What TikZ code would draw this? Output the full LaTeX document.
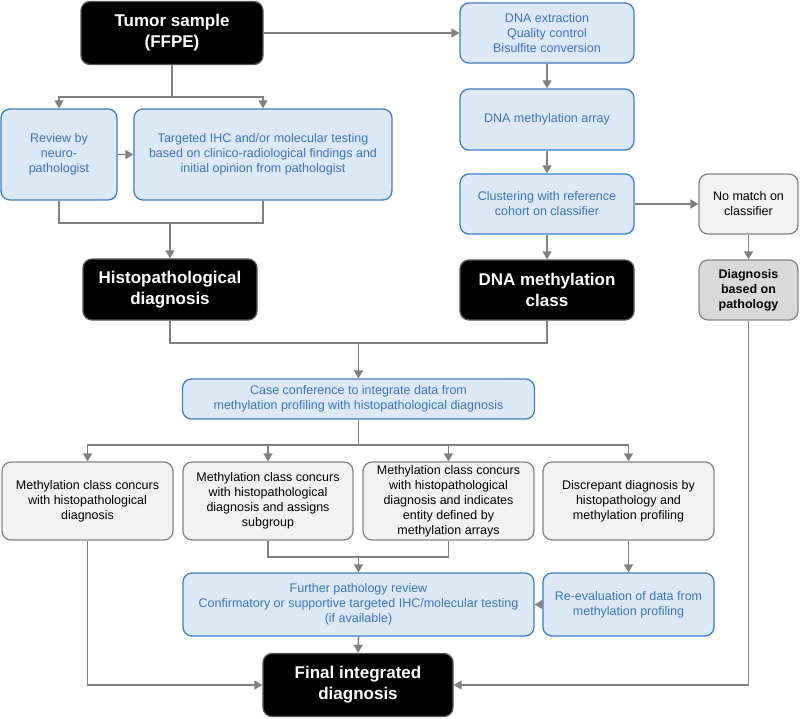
\documentclass[tikz,border=0pt]{standalone}
\usepackage{fontspec}
\setmainfont{Liberation Sans}
\usetikzlibrary{arrows.meta}
\definecolor{conn}{HTML}{808080}
\definecolor{bfill}{HTML}{DDE9F6}
\definecolor{bdraw}{HTML}{3F7DC1}
\definecolor{btext}{HTML}{3A74B6}
\definecolor{gfill}{HTML}{F2F2F2}
\definecolor{gdraw}{HTML}{858585}
\definecolor{dfill}{HTML}{D9D9D9}
\tikzset{
  base/.style={rounded corners=9pt, align=center, inner sep=2pt, line width=1.3pt},
  bluebox/.style={base, fill=bfill, draw=bdraw, text=btext, font=\fontsize{12.5}{15}\selectfont},
  graybox/.style={base, fill=gfill, draw=gdraw, text=black, font=\fontsize{12.5}{15}\selectfont},
  darkgray/.style={base, fill=dfill, draw=gdraw, text=black, font=\fontsize{12.5}{15}\selectfont\bfseries},
  blackbox/.style={base, fill=black, draw=gray!70!black, text=white, font=\fontsize{17}{21}\selectfont\bfseries},
  conline/.style={draw=conn, line width=1.6pt},
  arr/.style={conline, -{Triangle[length=8pt,width=9pt]}},
}
\begin{document}
\begin{tikzpicture}[x=1pt,y=-1pt]
\useasboundingbox (0,0) rectangle (800,718);
% top left
\node[blackbox, minimum width=182pt, minimum height=63pt] (tumor) at (172,33) {Tumor sample\\(FFPE)};
\node[bluebox, minimum width=116pt, minimum height=91pt] (review) at (59,154.5) {Review by\\neuro-\\pathologist};
\node[bluebox, minimum width=258pt, minimum height=91pt] (targeted) at (263,154.5) {Targeted IHC and/or molecular testing\\based on clinico-radiological findings and\\initial opinion from pathologist};
\node[blackbox, minimum width=174pt, minimum height=61pt] (histo) at (170,289.5) {Histopathological\\diagnosis};
% top right
\node[bluebox, minimum width=174pt, minimum height=60pt] (dnaext) at (547,33) {DNA extraction\\Quality control\\Bisulfite conversion};
\node[bluebox, minimum width=174pt, minimum height=61pt] (array) at (547,119.5) {DNA methylation array};
\node[bluebox, minimum width=174pt, minimum height=60pt] (clust) at (547,204) {Clustering with reference\\cohort on classifier};
\node[blackbox, minimum width=174pt, minimum height=60pt] (dnaclass) at (547,290) {DNA methylation\\class};
\node[graybox, minimum width=99pt, minimum height=60pt] (nomatch) at (748.5,204) {No match on\\classifier};
\node[darkgray, minimum width=99pt, minimum height=60pt] (diagpath) at (748.5,290) {Diagnosis\\based on\\pathology};
% middle
\node[bluebox, minimum width=352pt, minimum height=40pt] (case) at (358.5,399) {Case conference to integrate data from\\methylation profiling with histopathological diagnosis};
\node[graybox, minimum width=171pt, minimum height=78pt] (b1) at (87.5,501) {Methylation class concurs\\with histopathological\\diagnosis};
\node[graybox, minimum width=170pt, minimum height=78pt] (b2) at (268,501) {Methylation class concurs\\with histopathological\\diagnosis and assigns\\subgroup};
\node[graybox, minimum width=171pt, minimum height=78pt] (b3) at (448.5,501) {Methylation class concurs\\with histopathological\\diagnosis and indicates\\entity defined by\\methylation arrays};
\node[graybox, minimum width=171pt, minimum height=78pt] (b4) at (628.5,501) {Discrepant diagnosis by\\histopathology and\\methylation profiling};
\node[bluebox, minimum width=351pt, minimum height=63pt] (further) at (358.5,604.5) {Further pathology review\\Confirmatory or supportive targeted IHC/molecular testing\\(if available)};
\node[bluebox, minimum width=171pt, minimum height=63pt] (reeval) at (628.5,604.5) {Re-evaluation of data from\\methylation profiling};
\node[blackbox, minimum width=190pt, minimum height=63pt] (final) at (358,685) {Final integrated\\diagnosis};
% junctions
\coordinate (j1) at (172,97);
\coordinate (j2) at (170,223);
\coordinate (j3) at (358.5,343);
\coordinate (j4) at (358.5,445);
\coordinate (j5) at (358.5,557);
% connectors
\draw[arr] (tumor.east) -- (dnaext.west);
\draw[conline] (tumor.south) -- (j1);
\draw[arr] (j1) -| (review.north);
\draw[arr] (j1) -| (targeted.north);
\draw[arr] (review.east) -- (targeted.west);
\draw[conline] (review.south) |- (j2) -| (targeted.south);
\draw[arr] (j2) -- (histo.north);
\draw[arr] (dnaext.south) -- (array.north);
\draw[arr] (array.south) -- (clust.north);
\draw[arr] (clust.south) -- (dnaclass.north);
\draw[arr] (clust.east) -- (nomatch.west);
\draw[arr] (nomatch.south) -- (diagpath.north);
\draw[conline] (histo.south) |- (j3) -| (dnaclass.south);
\draw[arr] (j3) -- (case.north);
\draw[conline] (case.south) -- (j4);
\draw[arr] (j4) -| (b1.north);
\draw[arr] (j4) -| (b2.north);
\draw[arr] (j4) -| (b3.north);
\draw[arr] (j4) -| (b4.north);
\draw[conline] (b2.south) |- (j5) -| (b3.south);
\draw[arr] (j5) -- (further.north);
\draw[arr] (b4.south) -- (reeval.north);
\draw[arr] (reeval.west) -- (further.east);
\draw[arr] (further.south) -- (final.north);
\draw[arr] (b1.south) |- (final.west);
\draw[arr] (diagpath.south) |- (final.east);
\end{tikzpicture}
\end{document}
